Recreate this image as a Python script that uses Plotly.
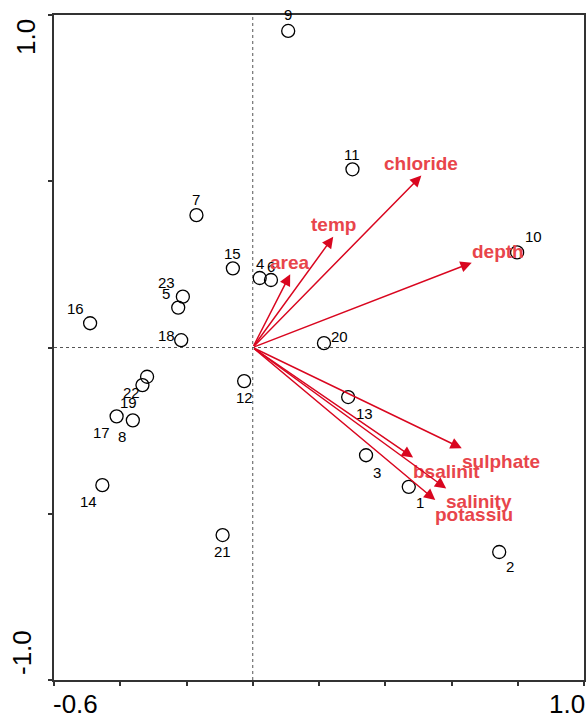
import plotly.graph_objects as go

# ---- site scores ----
site_ids = [str(i) for i in range(1, 24)]
site_x = [0.471, 0.744, 0.342, 0.021, -0.225, 0.055, -0.170, -0.362, 0.107, 0.798,
          0.301, -0.026, 0.288, -0.454, -0.060, -0.491, -0.411, -0.216, -0.333, 0.215,
          -0.091, -0.319, -0.211]
site_y = [-0.419, -0.615, -0.324, 0.209, 0.120, 0.203, 0.398, -0.219, 0.952, 0.286,
          0.536, -0.101, -0.149, -0.414, 0.238, 0.073, -0.207, 0.022, -0.113, 0.013,
          -0.564, -0.088, 0.153]

# ---- environmental variable arrows ----
env_names = ["area", "temp", "chloride", "depth", "sulphate", "bsalinit", "salinity", "potassiu"]
env_x = [0.113, 0.243, 0.509, 0.661, 0.631, 0.484, 0.584, 0.551]
env_y = [0.220, 0.333, 0.517, 0.255, -0.303, -0.331, -0.424, -0.459]

# ---- axis ----
x_range = [-0.6, 1.0]
y_range = [-1.0, 1.0]
x_ticks = [-0.6, -0.4, -0.2, 0.0, 0.2, 0.4, 0.6, 0.8, 1.0]
y_ticks = [-1.0, -0.5, 0.0, 0.5, 1.0]

# label placement (pixel offsets, style only)
site_label_shift = {
    "1": (11, -16), "2": (11, -15), "3": (11, -17), "4": (0, 15), "5": (-12, 14),
    "6": (0, 14), "7": (0, 16), "8": (-11, -16), "9": (0, 16), "10": (16, 16),
    "11": (0, 15), "12": (0, -16), "13": (16, -16), "14": (-14, -16), "15": (0, 15),
    "16": (-15, 15), "17": (-15, -16), "18": (-15, 5), "19": (-14, -17), "20": (16, 7),
    "21": (0, -16), "22": (-16, -16), "23": (-16, 14),
}
env_label_style = {
    "area": ("center", 12), "temp": ("center", 12), "chloride": ("center", 12),
    "depth": ("left", 11), "sulphate": ("left", -13), "bsalinit": ("left", -14),
    "salinity": ("left", -13), "potassiu": ("left", -14),
}

ARROW_COL = "#d9061f"
LABEL_COL = "#e8454b"
FONT = "Liberation Sans, Arial, sans-serif"

fig = go.Figure()

# dotted zero lines
fig.add_shape(type="line", x0=0, x1=0, y0=y_range[0], y1=y_range[1], xref="x", yref="y",
              line=dict(color="#555555", width=1, dash="dot"), layer="below")
fig.add_shape(type="line", x0=x_range[0], x1=x_range[1], y0=0, y1=0, xref="x", yref="y",
              line=dict(color="#555555", width=1, dash="dot"), layer="below")

fig.add_trace(go.Scatter(
    x=site_x, y=site_y, mode="markers",
    marker=dict(symbol="circle-open", size=13, color="black", line=dict(width=1.3, color="black")),
    hoverinfo="skip", showlegend=False,
))

annotations = []
for sid, sx, sy in zip(site_ids, site_x, site_y):
    dx, dy = site_label_shift[sid]
    annotations.append(dict(x=sx, y=sy, xref="x", yref="y", text=sid, showarrow=False,
                            xshift=dx, yshift=dy, font=dict(family=FONT, size=15, color="black")))

for name, ex, ey in zip(env_names, env_x, env_y):
    annotations.append(dict(x=ex, y=ey, ax=0, ay=0, xref="x", yref="y", axref="x", ayref="y",
                            text="", showarrow=True, arrowhead=2, arrowsize=1.5, arrowwidth=1.5,
                            arrowcolor=ARROW_COL, standoff=0, startstandoff=0))
    anchor, dy = env_label_style[name]
    annotations.append(dict(x=ex, y=ey, xref="x", yref="y", text="<b>" + name + "</b>", showarrow=False,
                            xanchor=anchor, yshift=dy, xshift=(-2 if anchor == "left" else 0),
                            font=dict(family=FONT, size=19, color=LABEL_COL)))

# axis end labels
tick_font = dict(family=FONT, size=26, color="black")
annotations += [
    dict(x=x_range[0], y=y_range[0], xref="x", yref="y", text="-0.6", showarrow=False,
         xanchor="left", yanchor="middle", yshift=-24, xshift=-3, font=tick_font),
    dict(x=x_range[1], y=y_range[0], xref="x", yref="y", text="1.0", showarrow=False,
         xanchor="right", yanchor="middle", yshift=-24, xshift=3, font=tick_font),
    dict(x=x_range[0], y=y_range[1], xref="x", yref="y", text="1.0", showarrow=False,
         textangle=-90, xanchor="center", yanchor="middle", xshift=-28, yshift=-22, font=tick_font),
    dict(x=x_range[0], y=y_range[0], xref="x", yref="y", text="-1.0", showarrow=False,
         textangle=-90, xanchor="center", yanchor="middle", xshift=-32, yshift=27, font=tick_font),
]

axis_common = dict(showgrid=False, zeroline=False, showline=True, mirror=True, linecolor="#333333",
                   linewidth=2, ticks="outside", ticklen=4, tickwidth=1.5, tickcolor="#333333",
                   showticklabels=False)
fig.update_layout(
    width=587, height=720,
    margin=dict(l=54, r=1, t=15, b=40),
    paper_bgcolor="white", plot_bgcolor="white",
    xaxis=dict(range=x_range, tickvals=x_ticks, **axis_common),
    yaxis=dict(range=y_range, tickvals=y_ticks, **axis_common),
    annotations=annotations,
)

fig.write_html("out.html", config={"displayModeBar": False},
               post_script="document.body.style.margin='0';document.body.style.overflow='hidden';")
